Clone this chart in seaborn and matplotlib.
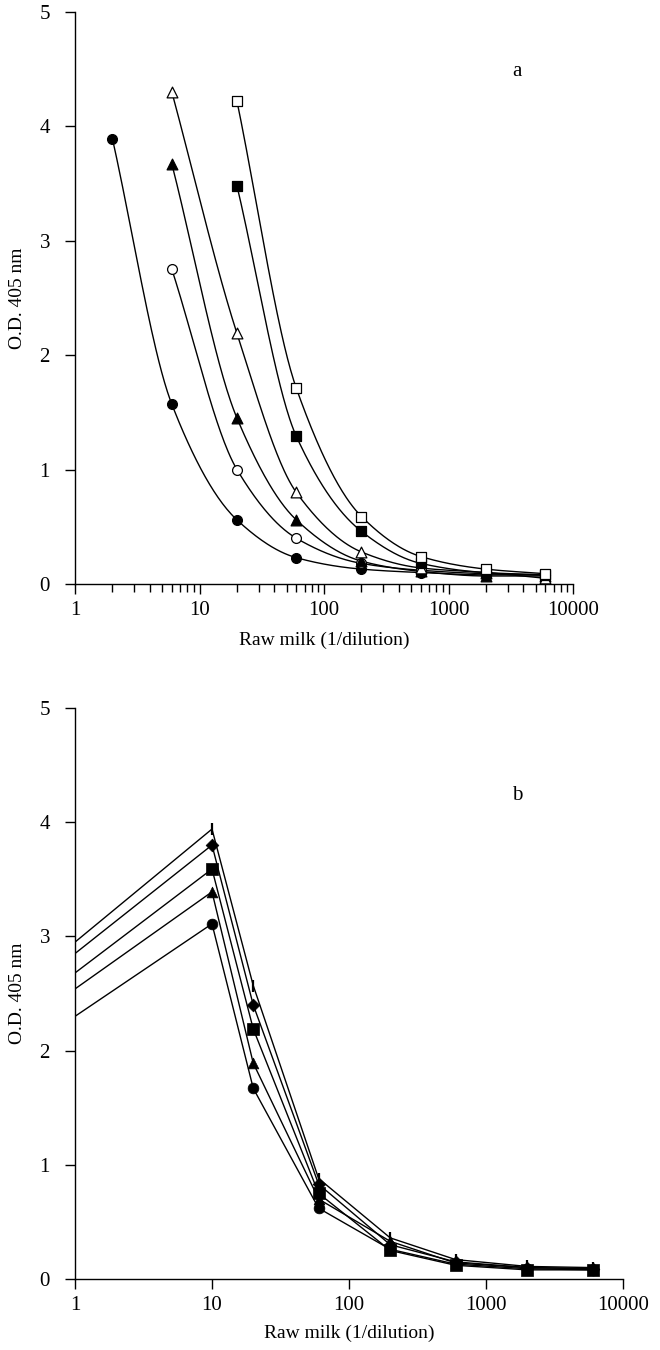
import numpy as np
import pandas as pd
import matplotlib
matplotlib.use("Agg")
import matplotlib.pyplot as plt
import seaborn as sns
from matplotlib.ticker import LogLocator, FixedLocator, NullLocator, FixedFormatter

sns.set_theme(style="ticks")
plt.rcParams['font.family'] = ['Liberation Serif', 'DejaVu Serif']

# ---- Panel a data ----
a_filled_circle_x = [2, 6, 20, 60, 200, 600, 2000, 6000]
a_filled_circle_y = [3.89, 1.57, 0.56, 0.23, 0.13, 0.10, 0.08, 0.08]
a_open_circle_x = [6, 20, 60, 200, 600, 2000, 6000]
a_open_circle_y = [2.75, 1.00, 0.40, 0.18, 0.12, 0.09, 0.08]
a_filled_tri_x = [6, 20, 60, 200, 600, 2000, 6000]
a_filled_tri_y = [3.67, 1.45, 0.56, 0.20, 0.11, 0.07, 0.07]
a_open_tri_x = [6, 20, 60, 200, 600, 2000, 6000]
a_open_tri_y = [4.30, 2.19, 0.80, 0.28, 0.14, 0.10, 0.05]
a_filled_sq_x = [20, 60, 200, 600, 2000, 6000]
a_filled_sq_y = [3.48, 1.29, 0.46, 0.18, 0.10, 0.08]
a_open_sq_x = [20, 60, 200, 600, 2000, 6000]
a_open_sq_y = [4.22, 1.71, 0.59, 0.24, 0.13, 0.09]

# ---- Panel b data ----
b_x = [1, 10, 20, 60, 200, 600, 2000, 6000]
b_circle_y = [2.30, 3.11, 1.67, 0.62, 0.26, 0.13, 0.09, 0.08]
b_tri_y = [2.54, 3.39, 1.89, 0.70, 0.33, 0.14, 0.10, 0.09]
b_sq_y = [2.68, 3.59, 2.19, 0.75, 0.25, 0.12, 0.08, 0.08]
b_dia_y = [2.85, 3.80, 2.40, 0.83, 0.30, 0.15, 0.10, 0.09]
b_bar_y = [2.95, 3.94, 2.57, 0.88, 0.36, 0.17, 0.11, 0.10]

y_ticks = [0, 1, 2, 3, 4, 5]
x_ticks = [1, 10, 100, 1000, 10000]
x_ticklabels = ["1", "10", "100", "1000", "10000"]
xlabel = "Raw milk (1/dilution)"
ylabel = "O.D. 405 nm"
panel_labels = ["a", "b"]


def pchip(x, y, xn):
    x = np.asarray(x, float); y = np.asarray(y, float)
    h = np.diff(x); d = np.diff(y) / h
    n = len(x)
    m = np.zeros(n)
    for k in range(1, n - 1):
        if d[k - 1] * d[k] > 0:
            w1 = 2 * h[k] + h[k - 1]; w2 = h[k] + 2 * h[k - 1]
            m[k] = (w1 + w2) / (w1 / d[k - 1] + w2 / d[k])
    m[0] = d[0]; m[-1] = d[-1]
    out = np.empty_like(xn)
    for i, xv in enumerate(xn):
        k = min(max(np.searchsorted(x, xv) - 1, 0), n - 2)
        t = (xv - x[k]) / h[k]
        h00 = 2*t**3 - 3*t**2 + 1; h10 = t**3 - 2*t**2 + t
        h01 = -2*t**3 + 3*t**2; h11 = t**3 - t**2
        out[i] = h00*y[k] + h10*h[k]*m[k] + h01*y[k+1] + h11*h[k]*m[k+1]
    return out


W, H = 660, 1350
fig = plt.figure(figsize=(6.6, 13.5), dpi=100)
# axes boxes in pixel terms: (left, right, top, bottom)
box_a = (75, 573, 12, 584)
box_b = (75, 623, 708, 1279)
def add_ax(b):
    l, r, t, bt = b
    return fig.add_axes([l/W, 1 - bt/H, (r-l)/W, (bt-t)/H])
ax_a = add_ax(box_a)
ax_b = add_ax(box_b)

series_a = [
    (a_filled_circle_x, a_filled_circle_y, 'o', 'black', 50),
    (a_open_circle_x, a_open_circle_y, 'o', 'white', 50),
    (a_filled_tri_x, a_filled_tri_y, '^', 'black', 60),
    (a_open_tri_x, a_open_tri_y, '^', 'white', 60),
    (a_filled_sq_x, a_filled_sq_y, 's', 'black', 45),
    (a_open_sq_x, a_open_sq_y, 's', 'white', 45),
]
for xs, ys, mk, fc, s in series_a:
    lx = np.log10(xs)
    xn = np.linspace(lx[0], lx[-1], 300)
    yn = pchip(lx, ys, xn)
    sns.lineplot(x=10**xn, y=yn, ax=ax_a, color='black', lw=1.0, sort=False, zorder=2)
for xs, ys, mk, fc, s in series_a:
    sns.scatterplot(x=xs, y=ys, ax=ax_a, marker=mk, s=s, facecolor=fc,
                    edgecolor='black', linewidth=0.9, zorder=3)

series_b = [
    (b_circle_y, 'o', 60),
    (b_tri_y, '^', 60),
    (b_sq_y, 's', 65),
    (b_dia_y, 'D', 42),
    (b_bar_y, '|', 70),
]
for ys, mk, s in series_b:
    sns.lineplot(x=b_x, y=ys, ax=ax_b, color='black', lw=1.0, sort=False, zorder=2)
for ys, mk, s in series_b:
    if mk == '|':
        sns.scatterplot(x=b_x[1:], y=ys[1:], ax=ax_b, marker=mk, s=s, color='black',
                        linewidth=1.6, zorder=3)
    else:
        sns.scatterplot(x=b_x[1:], y=ys[1:], ax=ax_b, marker=mk, s=s, facecolor='black',
                        edgecolor='black', linewidth=0.5, zorder=3)

xlabel_y = [640, 1333]
label_pos = [(517, 72), (517, 795)]
for i, (ax, box, minor) in enumerate([(ax_a, box_a, True), (ax_b, box_b, False)]):
    ax.set_xscale('log')
    ax.set_xlim(1, 10000)
    ax.set_ylim(0, 5)
    ax.xaxis.set_major_locator(FixedLocator(x_ticks))
    ax.xaxis.set_major_formatter(FixedFormatter(x_ticklabels))
    if minor:
        ax.xaxis.set_minor_locator(LogLocator(base=10, subs=np.arange(2, 10), numticks=20))
    else:
        ax.xaxis.set_minor_locator(NullLocator())
    ax.set_yticks(y_ticks)
    ax.set_yticklabels([str(v) for v in y_ticks])
    for sp in ['top', 'right']:
        ax.spines[sp].set_visible(False)
    for sp in ['left', 'bottom']:
        ax.spines[sp].set_color('black')
        ax.spines[sp].set_linewidth(1.0)
    ax.tick_params(axis='both', which='major', direction='out', length=7, width=1,
                   colors='black', labelsize=15)
    ax.tick_params(axis='x', which='major', pad=5)
    ax.tick_params(axis='y', which='major', pad=11)
    ax.tick_params(axis='x', which='minor', direction='out', length=6, width=1, colors='black')
    ax.set_xlabel(xlabel, fontsize=14, color='black', va='center')
    ax.xaxis.set_label_coords(((box[0] + box[1]) / 2) / W, 1 - xlabel_y[i] / H,
                              transform=fig.transFigure)
    ax.set_ylabel(ylabel, fontsize=14, color='black', va='center')
    ax.yaxis.set_label_coords(18 / W, 1 - ((box[2] + box[3]) / 2) / H,
                              transform=fig.transFigure)
    fig.text(label_pos[i][0] / W, 1 - label_pos[i][1] / H, panel_labels[i], fontsize=15,
             ha='center', va='center', color='black')
    ax.set_facecolor('white')

fig.savefig('out.png', dpi=100, facecolor='white')
